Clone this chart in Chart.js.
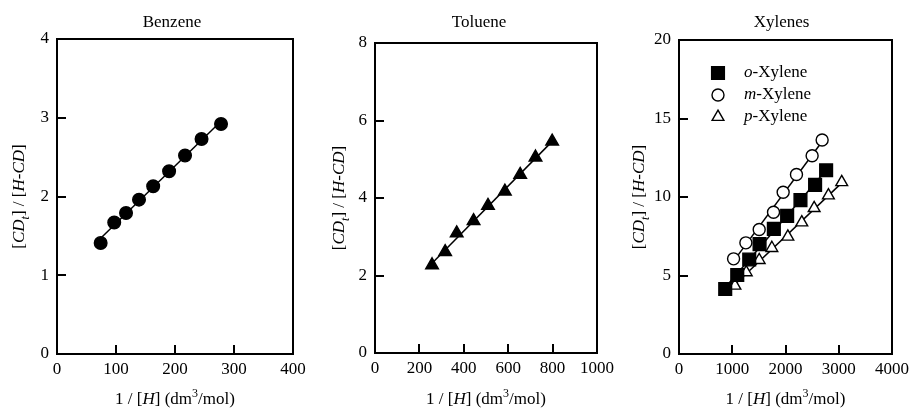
<!DOCTYPE html>
<html><head><meta charset="utf-8">
<script src="https://cdn.jsdelivr.net/npm/chart.js@4/dist/chart.umd.min.js"></script>
<style>
html,body{margin:0;padding:0;background:#fff;}
body{width:914px;height:409px;position:relative;overflow:hidden;}
canvas{position:absolute;top:0;}
</style></head>
<body>
<canvas id="c1" width="320" height="409" style="left:0px"></canvas>
<canvas id="c2" width="330" height="409" style="left:300px"></canvas>
<canvas id="c3" width="314" height="409" style="left:600px"></canvas>
<script>
// ---- data ----
const benzeneX = [74, 97, 117, 139, 163, 190, 217, 245, 278];
const benzeneY = [1.41, 1.67, 1.79, 1.96, 2.13, 2.32, 2.52, 2.73, 2.92];
const tolueneX = [257, 316, 368, 444, 509, 585, 654, 723, 798];
const tolueneY = [2.27, 2.61, 3.09, 3.41, 3.80, 4.17, 4.60, 5.05, 5.46];
const oXyleneX = [868, 1094, 1319, 1513, 1781, 2031, 2281, 2556, 2763];
const oXyleneY = [4.14, 5.03, 6.02, 7.00, 7.97, 8.80, 9.80, 10.77, 11.70];
const mXyleneX = [1025, 1256, 1506, 1775, 1956, 2206, 2500, 2688];
const mXyleneY = [6.06, 7.08, 7.93, 9.03, 10.30, 11.43, 12.63, 13.63];
const pXyleneX = [1050, 1263, 1506, 1744, 2044, 2306, 2538, 2806, 3056];
const pXyleneY = [4.35, 5.20, 5.98, 6.75, 7.47, 8.38, 9.29, 10.10, 10.94];

const benzeneXTicks = [0, 100, 200, 300, 400];
const benzeneYTicks = [0, 1, 2, 3, 4];
const tolueneXTicks = [0, 200, 400, 600, 800, 1000];
const tolueneYTicks = [0, 2, 4, 6, 8];
const xyleneXTicks = [0, 1000, 2000, 3000, 4000];
const xyleneYTicks = [0, 5, 10, 15, 20];

const panelTitles = ["Benzene", "Toluene", "Xylenes"];
const legendNames = [["o", "-Xylene"], ["m", "-Xylene"], ["p", "-Xylene"]];

// ---- helpers ----
const FONT = "'Liberation Serif', 'Times New Roman', Times, serif";
Chart.defaults.font.family = FONT;
Chart.defaults.color = '#000';

const xTitleSegs = [{t:"1 / ["},{t:"H",i:1},{t:"] (dm"},{t:"3",sup:1},{t:"/mol)"}];
const yTitleSegs = [{t:"["},{t:"CD",i:1},{t:"t",i:1,sub:1},{t:"] / ["},{t:"H-CD",i:1},{t:"]"}];

function segFont(s, size){
  const sz = (s.sub||s.sup) ? Math.round(size*0.68) : size;
  return (s.i ? 'italic ' : '') + sz + 'px ' + FONT;
}
function drawRich(ctx, segs, x, y, size){
  let total = 0;
  segs.forEach(s => { ctx.font = segFont(s,size); total += ctx.measureText(s.t).width; });
  let cx = x - total/2;
  ctx.textAlign = 'left'; ctx.textBaseline = 'alphabetic'; ctx.fillStyle = '#000';
  segs.forEach(s => {
    ctx.font = segFont(s,size);
    const dy = s.sub ? size*0.28 : (s.sup ? -size*0.4 : 0);
    ctx.fillText(s.t, cx, y + dy);
    cx += ctx.measureText(s.t).width;
  });
}
function fitLine(xs, ys){
  const n = xs.length;
  const mx = xs.reduce((a,b)=>a+b,0)/n, my = ys.reduce((a,b)=>a+b,0)/n;
  let sxy = 0, sxx = 0;
  for (let i=0;i<n;i++){ sxy += (xs[i]-mx)*(ys[i]-my); sxx += (xs[i]-mx)**2; }
  const b = sxy/sxx, a = my - b*mx;
  const x0 = Math.min(...xs), x1 = Math.max(...xs);
  return [{x:x0, y:a+b*x0}, {x:x1, y:a+b*x1}];
}
function pts(xs, ys){ return xs.map((x,i)=>({x:x, y:ys[i]})); }

function drawMarker(ctx, style, filled, r, x, y){
  ctx.save();
  ctx.beginPath();
  if (style === 'rect'){ const s = Math.SQRT1_2*r; ctx.rect(x-s, y-s, 2*s, 2*s); }
  else if (style === 'circle'){ ctx.arc(x, y, r, 0, Math.PI*2); }
  else if (style === 'triangle'){
    let rad = 0; const T = 2*Math.PI/3;
    ctx.moveTo(x+Math.sin(rad)*r, y-Math.cos(rad)*r); rad += T;
    ctx.lineTo(x+Math.sin(rad)*r, y-Math.cos(rad)*r); rad += T;
    ctx.lineTo(x+Math.sin(rad)*r, y-Math.cos(rad)*r); ctx.closePath();
  }
  ctx.fillStyle = filled ? '#000' : '#fff';
  ctx.fill();
  ctx.lineWidth = 1.4; ctx.strokeStyle = '#000'; ctx.stroke();
  ctx.restore();
}

const panelPlugin = {
  id: 'panel',
  afterDraw(chart, args, opts){
    const ctx = chart.ctx, a = chart.chartArea;
    const xs = chart.scales.x, ys = chart.scales.y;
    ctx.save();
    // frame
    ctx.strokeStyle = '#000'; ctx.lineWidth = 2;
    ctx.strokeRect(a.left, a.top, a.right - a.left, a.bottom - a.top);
    // inward ticks
    ctx.lineWidth = 2;
    const TL = 9;
    opts.xTicks.forEach(v => {
      if (v === xs.min || v === xs.max) return;
      const px = Math.round(xs.getPixelForValue(v));
      ctx.beginPath(); ctx.moveTo(px, a.bottom); ctx.lineTo(px, a.bottom - TL); ctx.stroke();
    });
    opts.yTicks.forEach(v => {
      if (v === ys.min || v === ys.max) return;
      const py = Math.round(ys.getPixelForValue(v));
      ctx.beginPath(); ctx.moveTo(a.left, py); ctx.lineTo(a.left + TL, py); ctx.stroke();
    });
    // title
    ctx.fillStyle = '#000'; ctx.font = '17px ' + FONT;
    ctx.textAlign = 'center'; ctx.textBaseline = 'alphabetic';
    ctx.fillText(opts.title, (a.left + a.right)/2 + opts.titleDx, 27);
    // x axis title
    drawRich(ctx, xTitleSegs, (a.left + a.right)/2, 404, 17);
    // y axis title
    ctx.save();
    ctx.translate(a.left - opts.yTitleGap, (a.top + a.bottom)/2);
    ctx.rotate(-Math.PI/2);
    drawRich(ctx, yTitleSegs, 0, 6, 17);
    ctx.restore();
    // legend
    if (opts.legend){
      const L = opts.legend;
      L.items.forEach((it, k) => {
        const y = L.y + k*L.dy;
        drawMarker(ctx, it.style, it.filled, it.r, L.x, y);
        ctx.fillStyle = '#000'; ctx.textAlign = 'left'; ctx.textBaseline = 'middle';
        ctx.font = 'italic 17px ' + FONT;
        ctx.fillText(it.name[0], L.x + 26, y);
        const w = ctx.measureText(it.name[0]).width;
        ctx.font = '17px ' + FONT;
        ctx.fillText(it.name[1], L.x + 26 + w, y);
      });
    }
    ctx.restore();
  }
};

function makeChart(id, cfg){
  const scaleCommon = (min, max, ticksArr, axis) => ({
    type: 'linear', min: min, max: max,
    grid: { display: false, drawTicks: false },
    border: { display: false },
    ticks: { font: { size: 17, family: FONT }, color: '#000', padding: axis === 'x' ? 5 : 8,
             autoSkip: false, maxRotation: 0, callback: v => String(v) },
    afterBuildTicks: s => { s.ticks = ticksArr.map(v => ({ value: v })); },
    afterFit: s => { if (axis === 'y') s.width = cfg.yWidth; else s.height = cfg.xHeight; }
  });
  cfg.panel.xTicks = cfg.xTicks; cfg.panel.yTicks = cfg.yTicks;
  return new Chart(document.getElementById(id), {
    type: 'scatter',
    data: { datasets: cfg.datasets },
    options: {
      responsive: false, animation: false, devicePixelRatio: 1,
      layout: { padding: { left: 0, right: cfg.padRight, top: cfg.padTop, bottom: 0 } },
      scales: {
        x: scaleCommon(cfg.xMin, cfg.xMax, cfg.xTicks, 'x'),
        y: scaleCommon(cfg.yMin, cfg.yMax, cfg.yTicks, 'y')
      },
      plugins: {
        legend: { display: false }, tooltip: { enabled: false }, title: { display: false },
        panel: cfg.panel
      }
    },
    plugins: [panelPlugin]
  });
}

function lineDs(xs, ys){
  return { data: fitLine(xs, ys), showLine: true, borderColor: '#000', borderWidth: 1.5,
           pointRadius: 0, pointHoverRadius: 0, order: 5 };
}
function pointDs(xs, ys, style, filled, r){
  return { data: pts(xs, ys), showLine: false, pointStyle: style, pointRadius: r, pointHoverRadius: r,
           backgroundColor: filled ? '#000' : '#fff', borderColor: '#000', pointBorderWidth: 1.4, borderWidth: 1.4, order: 1 };
}

makeChart('c1', {
  datasets: [lineDs(benzeneX, benzeneY), pointDs(benzeneX, benzeneY, 'circle', true, 6.3)],
  xMin: 0, xMax: 400, yMin: 0, yMax: 4, xTicks: benzeneXTicks, yTicks: benzeneYTicks,
  yWidth: 57, xHeight: 55, padRight: 320 - 293, padTop: 39,
  panel: { title: panelTitles[0], titleDx: -3, yTitleGap: 39 }
});
makeChart('c2', {
  datasets: [lineDs(tolueneX, tolueneY), pointDs(tolueneX, tolueneY, 'triangle', true, 7.3)],
  xMin: 0, xMax: 1000, yMin: 0, yMax: 8, xTicks: tolueneXTicks, yTicks: tolueneYTicks,
  yWidth: 75, xHeight: 56, padRight: 630 - 597, padTop: 43,
  panel: { title: panelTitles[1], titleDx: -7, yTitleGap: 37 }
});
makeChart('c3', {
  datasets: [lineDs(oXyleneX, oXyleneY), lineDs(mXyleneX, mXyleneY), lineDs(pXyleneX, pXyleneY),
             pointDs(oXyleneX, oXyleneY, 'rect', true, 9),
             pointDs(mXyleneX, mXyleneY, 'circle', false, 6),
             pointDs(pXyleneX, pXyleneY, 'triangle', false, 6.8)],
  xMin: 0, xMax: 4000, yMin: 0, yMax: 20, xTicks: xyleneXTicks, yTicks: xyleneYTicks,
  yWidth: 79, xHeight: 55, padRight: 914 - 893, padTop: 40,
  panel: { title: panelTitles[2], titleDx: -4, yTitleGap: 41,
    legend: { x: 118, y: 73, dy: 22, items: [
      { style: 'rect', filled: true, r: 9, name: legendNames[0] },
      { style: 'circle', filled: false, r: 6, name: legendNames[1] },
      { style: 'triangle', filled: false, r: 6.8, name: legendNames[2] }
    ] } }
});
</script>
</body></html>
